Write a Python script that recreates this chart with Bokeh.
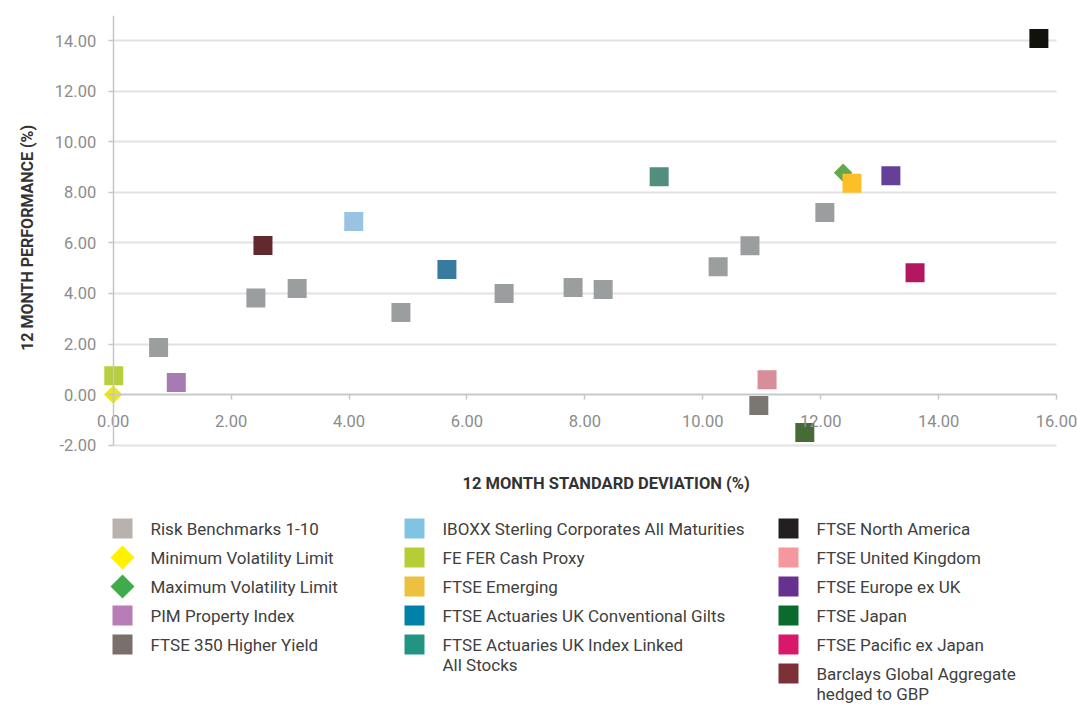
import numpy as np
from bokeh.plotting import figure
from bokeh.models import (Range1d, FixedTicker, NumeralTickFormatter, Title, Label,
                          ColumnDataSource, Grid)
from bokeh.core.properties import value
from bokeh.layouts import column
from bokeh.embed import file_html
from bokeh.resources import INLINE

FONT = "Roboto"

# ---------------- data ----------------
x_ticks = [0, 2, 4, 6, 8, 10, 12, 14, 16]
y_ticks = [-2, 0, 2, 4, 6, 8, 10, 12, 14]

risk_sd = [0.77, 2.42, 3.12, 4.88, 6.63, 7.80, 8.31, 10.26, 10.80, 12.07]
risk_perf = [1.86, 3.82, 4.20, 3.25, 4.00, 4.24, 4.16, 5.06, 5.89, 7.20]

index_names = ["Minimum Volatility Limit", "Maximum Volatility Limit", "PIM Property Index",
               "FTSE 350 Higher Yield", "IBOXX Sterling Corporates All Maturities",
               "FE FER Cash Proxy", "FTSE Emerging", "FTSE Actuaries UK Conventional Gilts",
               "FTSE Actuaries UK Index Linked All Stocks", "FTSE North America",
               "FTSE United Kingdom", "FTSE Europe ex UK", "FTSE Japan",
               "FTSE Pacific ex Japan", "Barclays Global Aggregate hedged to GBP"]
index_sd = [0.00, 12.38, 1.07, 10.95, 4.08, 0.01, 12.53, 5.66, 9.26, 15.70, 11.09, 13.19, 11.73, 13.60, 2.54]
index_perf = [0.00, 8.78, 0.48, -0.43, 6.85, 0.75, 8.36, 4.95, 8.62, 14.09, 0.59, 8.66, -1.50, 4.82, 5.90]

risk_color = "#9b9e9f"
index_colors = ["#e9e51f", "#64a84d", "#a77ab1", "#7a7671", "#9ac2e1", "#b7ce3d", "#fdbf27",
                "#377ca0", "#528e7e", "#12120d", "#d78e99", "#644099", "#466b36", "#b3175f", "#62292e"]
index_is_limit = [True, True] + [False] * 13

legend_labels = ["Risk Benchmarks 1-10", "Minimum Volatility Limit", "Maximum Volatility Limit",
                 "PIM Property Index", "FTSE 350 Higher Yield",
                 "IBOXX Sterling Corporates All Maturities", "FE FER Cash Proxy", "FTSE Emerging",
                 "FTSE Actuaries UK Conventional Gilts", "FTSE Actuaries UK Index Linked\nAll Stocks",
                 "FTSE North America", "FTSE United Kingdom", "FTSE Europe ex UK", "FTSE Japan",
                 "FTSE Pacific ex Japan", "Barclays Global Aggregate\nhedged to GBP"]
legend_colors = ["#b9b1ae", "#fff200", "#3fab4a", "#b87db6", "#7a706b",
                 "#80c4e2", "#b6cd34", "#ebc13f", "#0082a8", "#229582",
                 "#231f20", "#f5989d", "#66318f", "#0b6b2d", "#d9186c", "#7d3036"]
legend_is_diamond = [False, True, True, False, False,
                     False, False, False, False, False,
                     False, False, False, False, False, False]
legend_columns = [0, 0, 0, 0, 0, 1, 1, 1, 1, 1, 2, 2, 2, 2, 2, 2]

# ---------------- layout constants (pixels) ----------------
W = 1077
MAIN_H = 507
LEG_H = 705 - MAIN_H
PX_PER_X = 58.96          # horizontal pixels per unit
X0_PX = 112.7             # pixel position of x = 0
x_lo = -X0_PX / PX_PER_X
x_hi = 16 + (W - (X0_PX + 16 * PX_PER_X)) / PX_PER_X

# ---------------- main scatter ----------------
p = figure(width=W, height=MAIN_H, x_range=Range1d(x_lo, x_hi), y_range=Range1d(-2.45, 15),
           output_backend="svg", toolbar_location=None,
           min_border_left=0, min_border_right=0, min_border_top=15, min_border_bottom=40)
p.outline_line_color = None
p.background_fill_color = "white"
p.border_fill_color = "white"

p.xgrid.visible = False
p.ygrid.ticker = FixedTicker(ticks=y_ticks)
p.ygrid.grid_line_color = "#e2e2e2"
p.ygrid.grid_line_width = 2
if "cross_bounds" in Grid.properties():
    p.ygrid.cross_bounds = (0, 16)
else:
    p.ygrid.visible = False
    p.segment(x0=0, x1=16, y0=y_ticks, y1=y_ticks, line_color="#e2e2e2", line_width=2,
              level="underlay")

for ax in (p.xaxis[0], p.yaxis[0]):
    ax.formatter = NumeralTickFormatter(format="0.00")
    ax.axis_line_color = "#c4c7c7"
    ax.axis_line_width = 1.5
    ax.major_tick_line_color = "#c4c7c7"
    ax.major_tick_line_width = 1.5
    ax.major_tick_in = 0
    ax.major_tick_out = 5
    ax.minor_tick_line_color = None
    ax.major_label_text_font = FONT
    ax.major_label_text_font_size = "16.5px"
    ax.major_label_text_color = "#8c8c8c"
    ax.fixed_location = 0

p.xaxis.ticker = FixedTicker(ticks=x_ticks)
p.yaxis.ticker = FixedTicker(ticks=y_ticks)
p.xaxis.bounds = (0, 16)
p.yaxis.bounds = (-2, 15)
p.xaxis.major_label_standoff = 15
p.yaxis.major_label_standoff = 12

# y-axis title placed beside the tick labels
p.add_layout(Label(x=x_lo + 27 / PX_PER_X, y=6.2, text="12 MONTH PERFORMANCE (%)",
                   angle=np.pi / 2, text_align="center", text_baseline="middle",
                   text_font=FONT, text_font_size="16px", text_font_style="bold",
                   text_color="#333333"))

p.add_layout(Title(text="12 MONTH STANDARD DEVIATION (%)", align="left", offset=462, standoff=30,
                   text_font=FONT, text_font_size="16.5px", text_font_style="bold",
                   text_color="#333333"), "below")

risk_src = ColumnDataSource(dict(x=risk_sd, y=risk_perf))
p.scatter("x", "y", source=risk_src, marker="square", size=19,
          fill_color=risk_color, line_color=None)

for name, sd, perf, col, lim in zip(index_names, index_sd, index_perf, index_colors, index_is_limit):
    src = ColumnDataSource(dict(x=[sd], y=[perf], name=[name]))
    if lim:
        p.scatter("x", "y", source=src, marker="square", size=13, angle=np.pi / 4,
                  fill_color=col, line_color=None)
    else:
        p.scatter("x", "y", source=src, marker="square", size=19,
                  fill_color=col, line_color=None)

# ---------------- legend (drawn as its own panel, pixel units) ----------------
col_marker_x = [122, 414, 788]   # marker centre of each legend column
row_first = 21
row_pitch = 29
line_gap = 20.5
label_dx = 28

lg = figure(width=W, height=LEG_H, x_range=Range1d(0, W), y_range=Range1d(LEG_H, 0),
            x_axis_type=None, y_axis_type=None, output_backend="svg", toolbar_location=None,
            min_border=0)
lg.outline_line_color = None
lg.xgrid.visible = False
lg.ygrid.visible = False

mk_sq = dict(x=[], y=[], c=[])
mk_di = dict(x=[], y=[], c=[])
txt = dict(x=[], y=[], t=[])
row_count = [0, 0, 0]
for lab, colr, dia, c in zip(legend_labels, legend_colors, legend_is_diamond, legend_columns):
    r = row_count[c]
    row_count[c] += 1
    cx = col_marker_x[c]
    cy = row_first + r * row_pitch
    target = mk_di if dia else mk_sq
    target["x"].append(cx)
    target["y"].append(cy)
    target["c"].append(colr)
    for k, line in enumerate(lab.split("\n")):
        txt["x"].append(cx + label_dx)
        txt["y"].append(cy + k * line_gap)
        txt["t"].append(line)

lg.scatter("x", "y", source=ColumnDataSource(mk_sq), marker="square", size=20,
           fill_color="c", line_color=None)
lg.scatter("x", "y", source=ColumnDataSource(mk_di), marker="square", size=17, angle=np.pi / 4,
           fill_color="c", line_color=None)
lg.text("x", "y", text="t", source=ColumnDataSource(txt), text_font=value(FONT),
        text_font_size="17px", text_color="#404040", text_baseline="middle", text_align="left")

layout = column(p, lg)
open("out.html", "w").write(file_html(layout, INLINE))
